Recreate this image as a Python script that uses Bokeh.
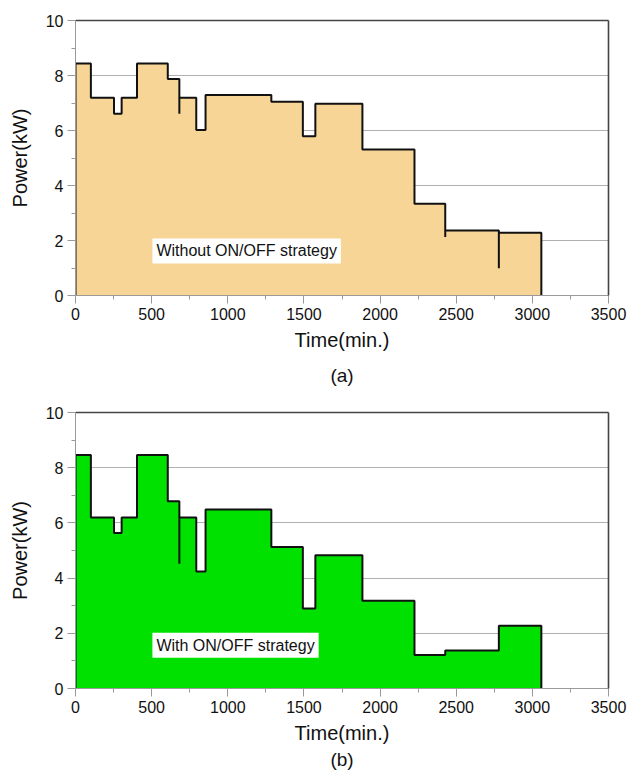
from bokeh.plotting import figure
from bokeh.models import Range1d, LinearAxis, Label, Title, FixedTicker
from bokeh.layouts import column
from bokeh.embed import file_html
from bokeh.resources import INLINE

# ---- data ----
times = [0, 101, 253, 303, 404, 606, 682, 793, 854, 1286, 1493, 1575, 1884, 2226, 2428, 2780]
end_time = 3059
power_without = [8.44, 7.19, 6.61, 7.19, 8.44, 7.87, 7.19, 6.02, 7.29, 7.05, 5.79, 6.97, 5.31, 3.34, 2.36, 2.28]
power_with = [8.46, 6.20, 5.63, 6.20, 8.46, 6.78, 6.20, 4.24, 6.49, 5.13, 2.90, 4.83, 3.18, 1.21, 1.38, 2.27]
spike_times_without = [682, 2428, 2780]
spike_low_without = [6.61, 2.13, 0.99]
spike_times_with = [682]
spike_low_with = [4.52]
x_ticks = [0, 500, 1000, 1500, 2000, 2500, 3000, 3500]
y_ticks = [0, 2, 4, 6, 8, 10]

FONT = "Liberation Sans"
AXIS_GRAY = "#9a9a9a"
BORDER = "#444444"


def make_panel(values, spike_t, spike_low, fill_color, note, note_x, note_y,
               caption, height, b_top, b_bottom, b_left, b_right, cap_standoff):
    p = figure(width=630, height=height, x_range=Range1d(0, 3500), y_range=Range1d(0, 10),
               output_backend="svg", toolbar_location=None,
               min_border_left=b_left, min_border_right=b_right,
               min_border_top=b_top, min_border_bottom=b_bottom)
    p.outline_line_color = None
    p.background_fill_color = "white"
    p.border_fill_color = "white"

    xs = [times[0]] + times + [end_time]
    ys = [0] + values + [0]
    zeros = [0] * len(xs)
    p.varea_step(x=xs, y1=zeros, y2=ys, step_mode="after", fill_color=fill_color)
    p.step(x=xs, y=ys, mode="after", line_color="#111111", line_width=2)
    y0 = [values[times.index(t)] for t in spike_t]
    p.segment(x0=spike_t, y0=y0, x1=spike_t, y1=spike_low, line_color="#111111", line_width=2)

    x_minor = [(a + b) / 2 for a, b in zip(x_ticks[:-1], x_ticks[1:])]
    y_minor = [(a + b) / 2 for a, b in zip(y_ticks[:-1], y_ticks[1:])]
    p.xaxis.ticker = FixedTicker(ticks=x_ticks, minor_ticks=x_minor)
    p.yaxis.ticker = FixedTicker(ticks=y_ticks, minor_ticks=y_minor)

    for ax in (p.xaxis[0], p.yaxis[0]):
        ax.axis_line_color = AXIS_GRAY
        ax.axis_line_width = 1
        ax.major_tick_line_color = AXIS_GRAY
        ax.minor_tick_line_color = AXIS_GRAY
        ax.major_tick_out = 8
        ax.major_tick_in = 0
        ax.minor_tick_out = 4
        ax.minor_tick_in = 0
        ax.major_label_text_font = FONT
        ax.major_label_text_font_size = "16px"
        ax.major_label_text_color = "#111111"
        ax.major_label_standoff = 4
        ax.axis_label_text_font = FONT
        ax.axis_label_text_font_size = "20px"
        ax.axis_label_text_font_style = "normal"
        ax.axis_label_text_color = "#111111"
        ax.axis_label_standoff = 6
    p.yaxis[0].axis_label_standoff = 12
    p.xaxis.axis_label = "Time(min.)"
    p.yaxis.axis_label = "Power(kW)"

    p.xgrid.visible = False
    p.ygrid.grid_line_color = "#b0b0b0"
    p.ygrid.grid_line_width = 1

    for side in ("above", "right"):
        a = LinearAxis(ticker=FixedTicker(ticks=[]), axis_line_color=BORDER, axis_line_width=1.6,
                       major_tick_line_color=None, minor_tick_line_color=None,
                       major_label_text_font_size="0px")
        p.add_layout(a, side)

    lab = Label(x=note_x, y=note_y, text=note, text_font=FONT, text_font_size="16px",
                text_color="#111111", text_baseline="middle", text_align="left",
                background_fill_color="white", padding=4)
    p.add_layout(lab)

    cap = Title(text=caption, align="center", text_font=FONT, text_font_size="19px",
                text_font_style="normal", text_color="#111111", standoff=cap_standoff)
    p.add_layout(cap, "below")
    return p


top = make_panel(power_without, spike_times_without, spike_low_without, "#F7D597",
                 "Without ON/OFF strategy", 505, 1.62, "(a)",
                 395, 20, 99, 73, 22, 19)
bottom = make_panel(power_with, spike_times_with, spike_low_with, "#00E100",
                    "With ON/OFF strategy", 505, 1.57, "(b)",
                    379, 17, 86, 75, 21, 0)

layout = column(top, bottom, spacing=0)
open("out.html", "w").write(file_html(layout, INLINE))
